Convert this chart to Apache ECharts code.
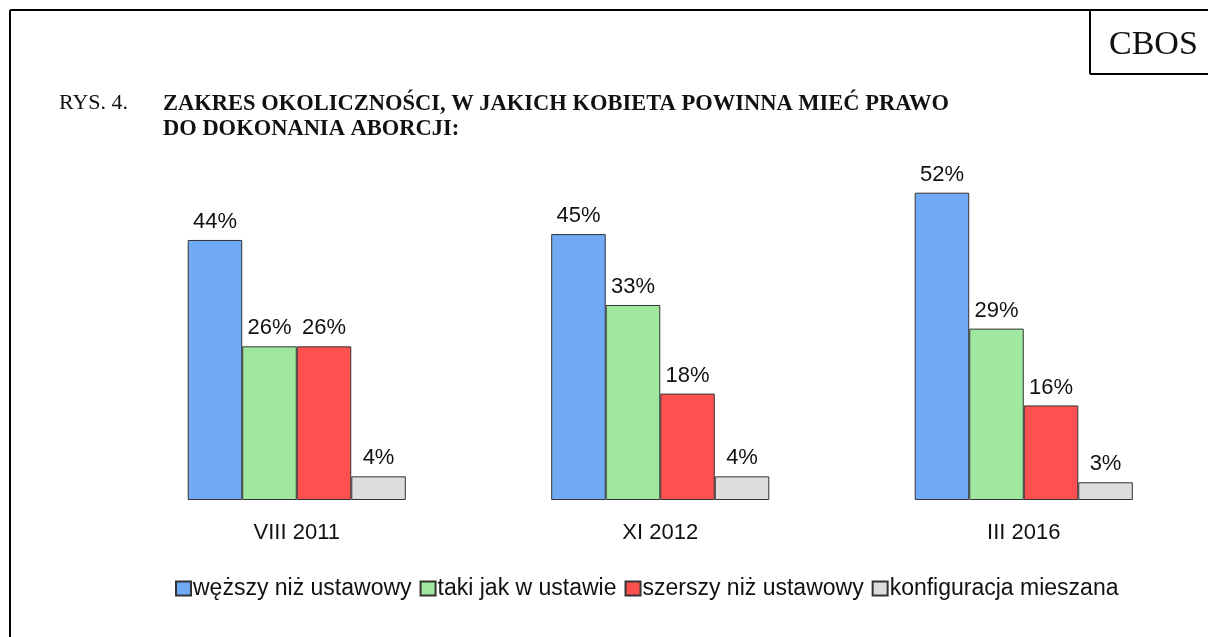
<!DOCTYPE html>
<html>
<head>
<meta charset="utf-8">
<script src="https://cdn.jsdelivr.net/npm/echarts@6/dist/echarts.min.js"></script>
<style>
  html, body { margin: 0; padding: 0; background: #fff; }
  #main { width: 1208px; height: 637px; }
</style>
</head>
<body>
<div id="main"></div>
<script>
// dane z wykresu
const categories = ['VIII 2011', 'XI 2012', 'III 2016']
const seriesNames = ['węższy niż ustawowy', 'taki jak w ustawie', 'szerszy niż ustawowy', 'konfiguracja mieszana']
const wezszy = [44, 45, 52]
const takiJak = [26, 33, 29]
const szerszy = [26, 18, 16]
const mieszana = [4, 4, 3]
const colors = ['#70aaf5', '#a0e8a0', '#ff5050', '#dddddd']

const chartBox = echarts.init(document.getElementById('main'))

const sansFont = '"Liberation Sans", Arial, sans-serif'
const serifFont = '"Liberation Serif", "Times New Roman", serif'

const makeSeries = (name, data, i) => ({
  name: name,
  type: 'bar',
  data: data,
  barGap: '0%',
  barCategoryGap: '40%',
  itemStyle: {
    color: colors[i],
    borderColor: '#333',
    borderWidth: 1
  },
  label: {
    show: true,
    position: 'top',
    distance: 7,
    formatter: '{c}%',
    color: '#111',
    fontSize: 22,
    fontFamily: sansFont
  }
})

const option = {
  animation: false,
  backgroundColor: '#fff',
  title: [
    {
      text: 'RYS. 4.',
      left: 59,
      top: 92,
      padding: 0,
      textStyle: { fontFamily: serifFont, fontWeight: 'normal', fontSize: 22, color: '#111' }
    },
    {
      text: 'ZAKRES OKOLICZNOŚCI, W JAKICH KOBIETA POWINNA MIEĆ PRAWO\nDO DOKONANIA ABORCJI:',
      left: 163,
      top: 92,
      padding: 0,
      textStyle: { fontFamily: serifFont, fontWeight: 'bold', fontSize: 22.5, lineHeight: 25, color: '#111' }
    },
    {
      text: 'CBOS',
      left: 1109,
      top: 28,
      padding: 0,
      textStyle: { fontFamily: serifFont, fontWeight: 'normal', fontSize: 34, color: '#111' }
    }
  ],
  graphic: [
    // ramka
    { type: 'line', shape: { x1: 10, y1: 10, x2: 10, y2: 637 }, style: { stroke: '#000', lineWidth: 2 } },
    { type: 'line', shape: { x1: 10, y1: 10, x2: 1208, y2: 10 }, style: { stroke: '#000', lineWidth: 2 } },
    { type: 'line', shape: { x1: 1090, y1: 10, x2: 1090, y2: 74 }, style: { stroke: '#000', lineWidth: 2 } },
    { type: 'line', shape: { x1: 1090, y1: 74, x2: 1208, y2: 74 }, style: { stroke: '#000', lineWidth: 2 } }
  ],
  legend: {
    left: 170,
    top: 572,
    itemWidth: 15,
    itemHeight: 14,
    itemGap: 8,
    icon: 'rect',
    textStyle: { fontFamily: sansFont, fontSize: 23, color: '#111', padding: [0, 0, 0, -3] },
    data: seriesNames
  },
  grid: {
    left: 115,
    width: 1090.5,
    top: 145.4,
    bottom: 137,
    containLabel: false
  },
  xAxis: {
    type: 'category',
    data: categories,
    axisLine: { show: false },
    axisTick: { show: false },
    axisLabel: {
      margin: 22,
      fontSize: 22,
      color: '#111',
      fontFamily: sansFont
    }
  },
  yAxis: {
    type: 'value',
    min: 0,
    max: 60,
    show: false
  },
  series: [
    makeSeries(seriesNames[0], wezszy, 0),
    makeSeries(seriesNames[1], takiJak, 1),
    makeSeries(seriesNames[2], szerszy, 2),
    makeSeries(seriesNames[3], mieszana, 3)
  ]
}

chartBox.setOption(option)
window.addEventListener('resize', function () {
  chartBox.resize()
})
</script>
</body>
</html>
